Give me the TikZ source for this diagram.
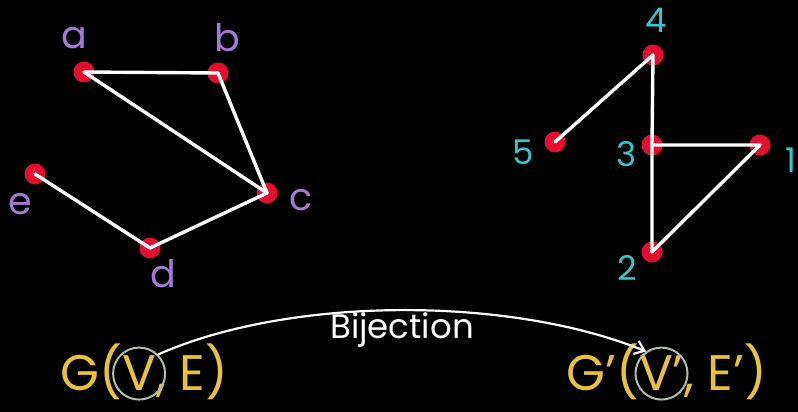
\documentclass[tikz,border=0pt]{standalone}
\usepackage{fontspec}
\usetikzlibrary{arrows.meta}
\setmainfont{Poppins}
\definecolor{dotred}{HTML}{E2102E}
\definecolor{lblpurple}{HTML}{A678D8}
\definecolor{lblcyan}{HTML}{34C6CE}
\definecolor{gyellow}{HTML}{E9C23A}
\definecolor{ringcol}{HTML}{AEBFA8}
\begin{document}
\begin{tikzpicture}[x=1pt,y=-1pt,
  vtx/.style={circle,fill=dotred,minimum size=21pt,inner sep=0pt},
  edge/.style={white,line width=3.4pt,line cap=round,line join=round},
  plbl/.style={text=lblpurple,font=\fontsize{38}{38}\selectfont,inner sep=0pt},
  clbl/.style={text=lblcyan,font=\fontsize{34}{34}\selectfont,inner sep=0pt},
  gtxt/.style={text=gyellow,font=\fontsize{50}{50}\selectfont,inner sep=0pt,anchor=base west},
  ring/.style={draw=ringcol,line width=2pt,circle,minimum size=52pt,inner sep=0pt}]
\fill[black] (0,0) rectangle (798,412);
\useasboundingbox (0,0) rectangle (798,412);
% left graph
\node[vtx] (a) at (84,72) {};
\node[vtx] (b) at (218,73) {};
\node[vtx] (c) at (267,193) {};
\node[vtx] (d) at (150,248) {};
\node[vtx] (e) at (35,174) {};
\draw[edge] (a.center) -- (b.center) -- (c.center) -- (a.center);
\draw[edge] (c.center) -- (d.center) -- (e.center);
\node[plbl] (la) at (74,38) {a};
\node[plbl] (lb) at (227,38) {b};
\node[plbl] (lc) at (301,200) {c};
\node[plbl] (ld) at (163,274) {d};
\node[plbl] (le) at (20,204) {e};
% right graph
\node[vtx] (n4) at (653,55) {};
\node[vtx] (n5) at (555,142) {};
\node[vtx] (n3) at (652,145) {};
\node[vtx] (n1) at (760,145) {};
\node[vtx] (n2) at (652,252) {};
\draw[edge] (n5.center) -- (n4.center) -- (n3.center) -- (n2.center) -- (n1.center) -- (n3.center);
\node[clbl] (l4) at (656,20) {4};
\node[clbl] (l5) at (523,152) {5};
\node[clbl] (l3) at (627,154) {3};
\node[clbl] (l1) at (791,160) {1};
\node[clbl] (l2) at (627,268) {2};
% bottom text
\node[gtxt] (g1) at (60,390) {G(};
\node[gtxt] (v1) at (g1.base east) {V};
\node[gtxt] (e1) at (v1.base east) {, E)};
\node[ring] (r1) at ([yshift=-1pt]v1.center) {};
\node[gtxt] (g2) at (566,390) {G'(};
\node[gtxt] (v2) at (g2.base east) {V'};
\node[gtxt] (e2) at (v2.base east) {, E')};
\node[ring] (r2) at ([yshift=-1pt]v2.center) {};
\draw[white,line width=2.2pt,-{Straight Barb[length=9pt,width=14pt,line width=2.2pt]},line cap=round] (r1.45) .. controls (290,296) and (510,296) .. (r2.125);
\node[text=white,font=\fontsize{34}{34}\selectfont,inner sep=0pt] (bij) at (402,330) {Bijection};
\end{tikzpicture}
\end{document}
